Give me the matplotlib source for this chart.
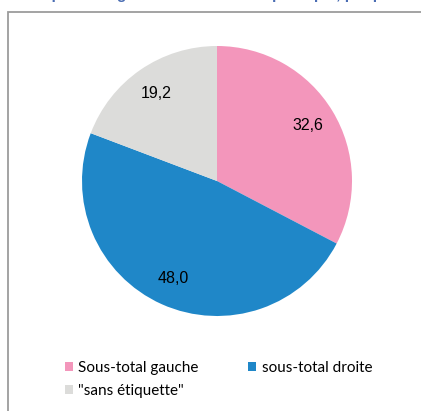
import matplotlib
matplotlib.use("Agg")
import matplotlib.pyplot as plt
from matplotlib.patches import Rectangle

# valeurs
categories = ["Sous-total gauche", "sous-total droite", "\"sans étiquette\""]
valeurs = [32.6, 48.0, 19.2]
couleurs = ["#F396BB", "#1F87C8", "#DCDCDA"]

W, H = 421, 411
fig = plt.figure(figsize=(W / 100, H / 100), dpi=100)

# cadre gris du graphique (coupé à droite et en bas)
fig.patches.append(Rectangle((8 / W, -0.05), 1.1, (H - 12) / H + 0.05,
                             transform=fig.transFigure, fill=False,
                             edgecolor="#9C9C9C", linewidth=1.3))

# titre coupé en haut de l'image (seuls les jambages dépassent)
fig.text(32 / W, 1 + 1.5 / H, "Répartition gauche    du     vote   principal, par p",
         color="#4A6DB3", fontsize=11, fontweight="bold", family="Liberation Sans",
         va="baseline", ha="left")

ax = fig.add_axes([82 / W, 1 - 316 / H, 270 / W, 270 / H])
parts, textes = ax.pie(valeurs, colors=couleurs, startangle=90, counterclock=False,
                       radius=1, labels=[f"{v:.1f}".replace(".", ",") for v in valeurs],
                       labeldistance=0.79,
                       textprops={"fontsize": 11.5, "family": "Liberation Sans",
                                  "ha": "center", "va": "center"})
ax.set_xlim(-1, 1)
ax.set_ylim(-1, 1)
ax.set_aspect("equal")

# ordre colonne par colonne : gauche, sans étiquette | droite
ordre = [0, 2, 1]
fig.legend([parts[i] for i in ordre], [categories[i] for i in ordre],
           loc="upper left", bbox_to_anchor=(51 / W, 1 - 347 / H), ncol=2,
           frameon=False, handlelength=0.55, handleheight=0.55, handletextpad=0.35,
           columnspacing=3.2, labelspacing=0.62,
           prop={"family": "Lato", "size": 11})

fig.savefig("out.png", dpi=100)
